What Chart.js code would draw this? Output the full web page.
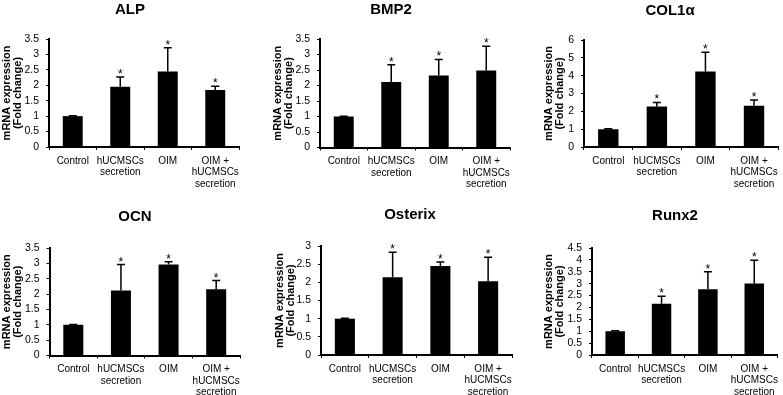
<!DOCTYPE html>
<html>
<head>
<meta charset="utf-8">
<script src="https://cdn.jsdelivr.net/npm/chart.js@4.4.1/dist/chart.umd.min.js"></script>
<style>
    html, body {
        margin: 0;
        padding: 0;
        background: #fff;
    }

    #figure {
        position: relative;
        width: 783px;
        height: 395px;
        overflow: hidden;
        background: #fff;
    }

    #figure canvas {
        position: absolute;
    }

    .gene {
        position: absolute;
        transform: translateX(-50%);
        font: bold 15px "Liberation Sans", Arial, sans-serif;
        line-height: 15px;
        white-space: nowrap;
        color: #000;
    }
</style>
</head>
<body>
<div id="figure"></div>

<script>
// categories shared by all six panels
const categories = [
    "Control",
    ["hUCMSCs", "secretion"],
    "OIM",
    ["OIM +", "hUCMSCs", "secretion"],
];

// which bars carry an asterisk
const significant = [false, true, true, true];

// mean fold change and upper error (SD)
const alpMean = [1, 1.95, 2.45, 1.85];
const alpSd = [0.01, 0.32, 0.77, 0.12];

const bmp2Mean = [1, 2.11, 2.32, 2.48];
const bmp2Sd = [0.01, 0.56, 0.52, 0.79];

const col1aMean = [1, 2.27, 4.23, 2.31];
const col1aSd = [0.02, 0.23, 1.08, 0.32];

const ocnMean = [1, 2.12, 2.96, 2.16];
const ocnSd = [0.01, 0.84, 0.09, 0.28];

const osterixMean = [1, 2.14, 2.45, 2.03];
const osterixSd = [0.01, 0.69, 0.11, 0.66];

const runx2Mean = [1, 2.16, 2.77, 3.01];
const runx2Sd = [0.02, 0.31, 0.73, 0.97];

// y axis range per panel
const geneNames = ["ALP", "BMP2", "COL1\u03b1", "OCN", "Osterix", "Runx2"];
const yMaxValues = [3.5, 3.5, 6, 3.5, 3, 4.5];
const yStepValues = [0.5, 0.5, 1, 0.5, 0.5, 0.5];

const FONT = "'Liberation Sans', Arial, sans-serif";

// where each panel sits on the page: canvas box, plot box, title centre
const layout = [
    { canvas: [0, 0, 246, 200], plot: [49, 39, 239, 147], title: [130, 8] },
    { canvas: [271, 0, 246, 200], plot: [320, 39, 510, 147.5], title: [391, 8.5] },
    { canvas: [542, 0, 241, 200], plot: [584, 40, 780, 147], title: [670, 9.5] },
    { canvas: [0, 200, 246, 195], plot: [49.5, 248, 240, 355.5], title: [135, 215] },
    { canvas: [273, 200, 246, 195], plot: [321, 246, 512, 355], title: [410, 213] },
    { canvas: [542, 200, 241, 195], plot: [592, 248, 782, 355], title: [675, 214] },
];

const errorBarPlugin = {
    id: "errorBars",

    afterDatasetsDraw(chart) {

        const ctx = chart.ctx;
        const yScale = chart.scales.y;
        const dataset = chart.data.datasets[0];
        const meta = chart.getDatasetMeta(0);

        ctx.save();
        ctx.strokeStyle = "#000";
        ctx.fillStyle = "#000";
        ctx.lineWidth = 1.5;

        meta.data.forEach((bar, i) => {

            const top = yScale.getPixelForValue(
                dataset.data[i] + dataset.sd[i]
            );

            ctx.beginPath();
            ctx.moveTo(bar.x, bar.y);
            ctx.lineTo(bar.x, top);
            ctx.moveTo(bar.x - 4, top);
            ctx.lineTo(bar.x + 4, top);
            ctx.stroke();

            if (dataset.stars[i]) {
                ctx.font = "12px " + FONT;
                ctx.textAlign = "center";
                ctx.textBaseline = "alphabetic";
                ctx.fillText("*", bar.x, top + 1);
            }
        });

        ctx.restore();
    }
};

function buildPanel(index, mean, sd) {

    const box = layout[index];
    const figure = document.getElementById("figure");

    const canvas = document.createElement("canvas");
    canvas.width = box.canvas[2];
    canvas.height = box.canvas[3];
    canvas.style.left = box.canvas[0] + "px";
    canvas.style.top = box.canvas[1] + "px";
    figure.appendChild(canvas);

    const title = document.createElement("div");
    title.className = "gene";
    title.textContent = geneNames[index];
    title.style.left = box.title[0] + "px";
    title.style.top = (box.title[1] - 7.3) + "px";
    figure.appendChild(title);

    const padTop = box.plot[1] - box.canvas[1];
    const padRight = box.canvas[0] + box.canvas[2] - box.plot[2];
    const yAxisWidth = box.plot[0] - box.canvas[0];
    const xAxisHeight = box.canvas[1] + box.canvas[3] - box.plot[3];

    new Chart(canvas, {
        type: "bar",
        data: {
            labels: categories,
            datasets: [{
                data: mean,
                sd: sd,
                stars: significant,
                backgroundColor: "#000",
                borderWidth: 0,
                barPercentage: 0.42,
                categoryPercentage: 1,
            }]
        },
        options: {
            responsive: false,
            animation: false,
            devicePixelRatio: 1,
            layout: {
                padding: { top: padTop, right: padRight, bottom: 0, left: 0 }
            },
            plugins: {
                legend: { display: false },
                tooltip: { enabled: false },
            },
            scales: {
                x: {
                    offset: true,
                    grid: {
                        offset: true,
                        drawOnChartArea: false,
                        tickLength: 3,
                        color: "#000",
                        lineWidth: 1,
                    },
                    border: { display: true, color: "#000", width: 2 },
                    ticks: {
                        color: "#000",
                        font: { family: FONT, size: 10, lineHeight: 1.15 },
                        padding: 5,
                        maxRotation: 0,
                        autoSkip: false,
                    },
                    afterFit(scale) {
                        scale.height = xAxisHeight;
                    },
                },
                y: {
                    min: 0,
                    max: yMaxValues[index],
                    grid: {
                        drawOnChartArea: false,
                        tickLength: 3,
                        color: "#000",
                        lineWidth: 1,
                    },
                    border: { display: true, color: "#000", width: 2 },
                    ticks: {
                        stepSize: yStepValues[index],
                        autoSkip: false,
                        color: "#000",
                        font: { family: FONT, size: 10.5 },
                        padding: 7,
                        callback: (value) => String(value),
                    },
                    title: {
                        display: true,
                        text: ["mRNA expression", "(Fold change)"],
                        color: "#000",
                        font: { family: FONT, size: 11, weight: "bold", lineHeight: 0.95 },
                        padding: { top: 2, bottom: 0 },
                    },
                    afterFit(scale) {
                        scale.width = yAxisWidth;
                    },
                },
            },
        },
        plugins: [errorBarPlugin],
    });
}

buildPanel(0, alpMean, alpSd);
buildPanel(1, bmp2Mean, bmp2Sd);
buildPanel(2, col1aMean, col1aSd);
buildPanel(3, ocnMean, ocnSd);
buildPanel(4, osterixMean, osterixSd);
buildPanel(5, runx2Mean, runx2Sd);
</script>
</body>
</html>
